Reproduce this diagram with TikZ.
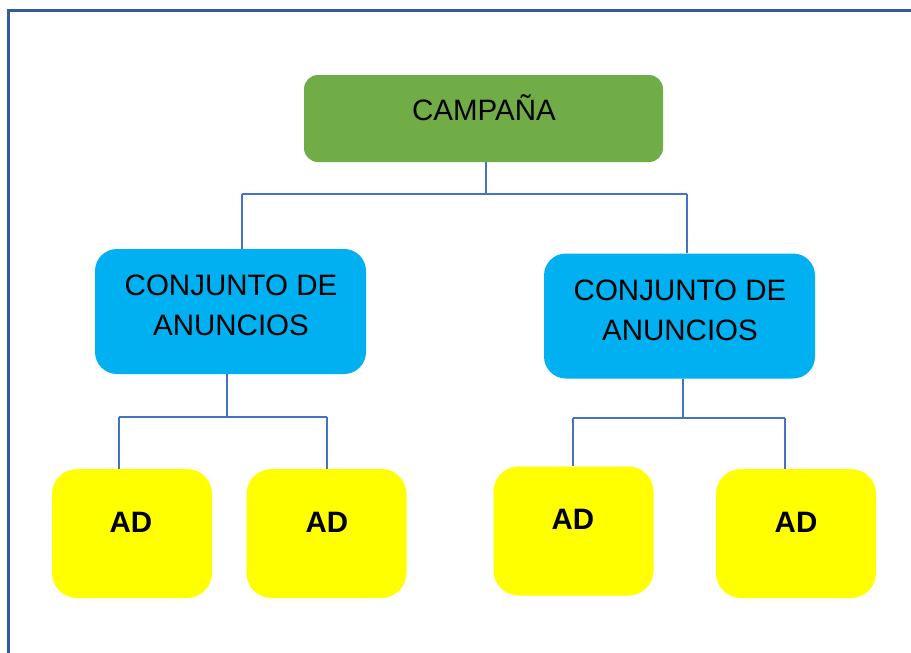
\documentclass[tikz,border=0pt]{standalone}
\usepackage{fontspec}
\setmainfont{Liberation Sans}
\definecolor{framec}{HTML}{35599E}
\definecolor{linec}{HTML}{4472C4}
\definecolor{greenc}{HTML}{70AD47}
\definecolor{bluec}{HTML}{00B0F0}
\definecolor{yellowc}{HTML}{FFFF00}
\tikzset{
  box/.style={rectangle, draw=none, inner sep=0pt},
  greenbox/.style={box, fill=greenc, minimum width=359pt, minimum height=87pt, rounded corners=14pt},
  bluebox/.style={box, fill=bluec, minimum width=271pt, minimum height=125pt, rounded corners=22pt},
  yellowbox/.style={box, fill=yellowc, minimum width=160pt, minimum height=129pt, rounded corners=25pt},
  lbl/.style={inner sep=0pt, align=center, font=\fontsize{29.5}{40}\selectfont},
  adlbl/.style={inner sep=0pt, font=\fontsize{29.5}{34}\selectfont\bfseries},
  conn/.style={draw=linec, line width=1.3pt},
}
\begin{document}
\begin{tikzpicture}[x=1pt,y=-1pt]
\useasboundingbox (0,0) rectangle (911,653);
\fill[white] (0,0) rectangle (911,653);
\coordinate (fbl) at (8,660);
\coordinate (ftl) at (8,10);
\coordinate (ftr) at (915,10);
\draw[framec, line width=3pt] (fbl) -- (ftl) -- (ftr);

% boxes
\node[greenbox] (camp) at (483.5,118.5) {};
\node[bluebox] (cl) at (230.5,311.5) {};
\node[bluebox] (cr) at (679.5,316) {};
\node[yellowbox] (a1) at (132,533.5) {};
\node[yellowbox] (a2) at (326.5,533.5) {};
\node[yellowbox] (a3) at (573.5,531) {};
\node[yellowbox] (a4) at (796,533.5) {};

% labels
\node[lbl] (campt) at (484,108) {CAMPAÑA};
\node[lbl] (clt) at (231,305) {CONJUNTO DE\\ANUNCIOS};
\node[lbl] (crt) at (680,310) {CONJUNTO DE\\ANUNCIOS};
\node[adlbl] (a1t) at (131,522) {AD};
\node[adlbl] (a2t) at (327,522) {AD};
\node[adlbl] (a3t) at (573,519) {AD};
\node[adlbl] (a4t) at (796,522) {AD};

% level 1 connectors
\coordinate (j0) at (486,194);
\coordinate (j0l) at (242,194);
\coordinate (j0r) at (687,194);
\draw[conn] (j0 |- camp.south) -- (j0);
\draw[conn] (j0l) -- (j0r);
\draw[conn] (j0l) -- (j0l |- cl.north);
\draw[conn] (j0r) -- (j0r |- cr.north);

% level 2 left
\coordinate (j1) at (227,417);
\coordinate (j1l) at (119,417);
\coordinate (j1r) at (327,417);
\draw[conn] (j1 |- cl.south) -- (j1);
\draw[conn] (j1l) -- (j1r);
\draw[conn] (j1l) -- (j1l |- a1.north);
\draw[conn] (j1r) -- (j1r |- a2.north);

% level 2 right
\coordinate (j2) at (683,418);
\coordinate (j2l) at (573,418);
\coordinate (j2r) at (785,418);
\draw[conn] (j2 |- cr.south) -- (j2);
\draw[conn] (j2l) -- (j2r);
\draw[conn] (j2l) -- (j2l |- a3.north);
\draw[conn] (j2r) -- (j2r |- a4.north);
\end{tikzpicture}
\end{document}
